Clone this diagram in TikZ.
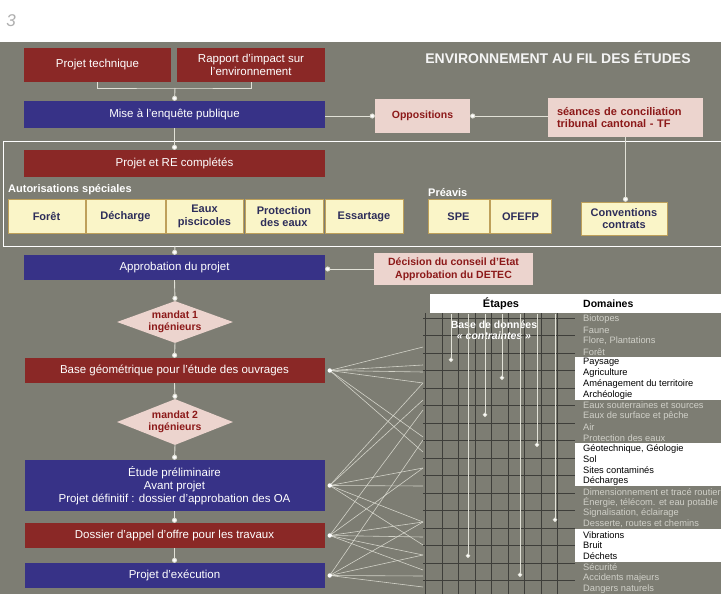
\documentclass[tikz,border=0pt]{standalone}
\usepackage{fontspec}
\setmainfont{Liberation Sans}
\usetikzlibrary{shapes.geometric,arrows.meta}
\definecolor{panel}{RGB}{125,125,115}
\definecolor{boxred}{RGB}{138,40,38}
\definecolor{boxblue}{RGB}{55,50,135}
\definecolor{boxpink}{RGB}{236,212,206}
\definecolor{boxyellow}{RGB}{250,245,200}
\definecolor{yelborder}{RGB}{190,160,90}
\definecolor{yeltext}{RGB}{45,45,90}
\definecolor{txtred}{RGB}{140,25,25}
\definecolor{linecol}{RGB}{225,225,215}
\definecolor{gridcol}{RGB}{62,62,58}
\definecolor{domlight}{RGB}{208,208,200}
\definecolor{numgray}{RGB}{175,175,175}
\tikzset{
  base/.style={inner sep=1pt, align=center, font=\fontsize{11.5}{13}\selectfont},
  redbox/.style={base, fill=boxred, text=white},
  bluebox/.style={base, fill=boxblue, text=white},
  pinkbox/.style={base, fill=boxpink, text=txtred, font=\bfseries\fontsize{10.5}{12.5}\selectfont},
  yelbox/.style={base, fill=boxyellow, draw=yelborder, line width=0.5pt, text=yeltext,
    minimum height=34pt, font=\bfseries\fontsize{11}{12.5}\selectfont},
  diam/.style={diamond, aspect=2.8, fill=boxpink, text=txtred, inner sep=0pt, align=center,
    font=\bfseries\fontsize{10.5}{11.5}\selectfont, minimum width=116pt},
  conn/.style={draw=linecol, line width=0.9pt},
  dotarrow/.style={conn, -{Circle[length=5pt, fill=white]}},
  fanline/.style={draw=linecol, line width=0.6pt, opacity=0.85},
  gridline/.style={draw=gridcol, line width=0.6pt},
  smalllabel/.style={anchor=west, inner sep=0pt, text=white, font=\bfseries\fontsize{11}{12}\selectfont},
  domtext/.style={anchor=west, inner sep=0pt, font=\fontsize{9.3}{10}\selectfont},
}
\begin{document}
\begin{tikzpicture}[x=1pt,y=-1pt]
\useasboundingbox (0,0) rectangle (721,594);
\fill[white] (0,0) rectangle (721,594);
\fill[panel] (0,42) rectangle (721,594);
\node[text=numgray, font=\itshape\fontsize{17}{17}\selectfont, inner sep=0pt] (num) at (11,21) {3};
\node[text=white!92!gray, inner sep=0pt, font=\bfseries\fontsize{14}{15}\selectfont] (title) at (558,57) {ENVIRONNEMENT AU FIL DES ÉTUDES};

% outline band
\draw[white, line width=1pt] (3,141) rectangle (726,246);

% top boxes
\node[redbox, minimum width=147pt, minimum height=34pt] (pt) at (97.5,65) {Projet technique};
\node[redbox, minimum width=148pt, minimum height=34pt] (ri) at (251,65) {Rapport d'impact sur\\l'environnement};
\node[bluebox, minimum width=301pt, minimum height=27pt] (mise) at (174.5,114.5) {Mise à l'enquête publique};
\node[pinkbox, minimum width=95pt, minimum height=34pt] (opp) at (422.5,116) {Oppositions};
\node[pinkbox, align=left, text width=137pt, inner xsep=9pt, minimum height=38pt,
  font=\bfseries\fontsize{11}{12.5}\selectfont] (sea) at (625.5,117.5) {séances de conciliation\\tribunal cantonal - TF};

\node[redbox, minimum width=301pt, minimum height=27pt] (prc) at (174.5,163.5) {Projet et RE complétés};
\node[smalllabel] (autor) at (8,190) {Autorisations spéciales};
\node[smalllabel] (preav) at (428,193) {Préavis};
\node[yelbox, minimum width=77pt] (foret) at (46.5,216.5) {Forêt};
\node[yelbox, minimum width=79pt] (dech) at (125.5,216.5) {Décharge};
\node[yelbox, minimum width=77pt] (eaux) at (204.5,216.5) {Eaux\\piscicoles};
\node[yelbox, minimum width=78pt] (prot) at (284,216.5) {Protection\\des eaux};
\node[yelbox, minimum width=78pt] (essa) at (364,216.5) {Essartage};
\node[yelbox, minimum width=61pt] (spe) at (458.5,216.5) {SPE};
\node[yelbox, minimum width=61pt] (ofe) at (520.5,216.5) {OFEFP};
\node[yelbox, minimum width=86pt, minimum height=33pt] (conv) at (624,218.5) {Conventions\\contrats};

\node[pinkbox, minimum width=159pt, minimum height=32pt] (dec) at (453.5,269) {Décision du conseil d'Etat\\Approbation du DETEC};
\node[bluebox, minimum width=301pt, minimum height=25pt] (appr) at (174.5,267.5) {Approbation du projet};
\node[diam, minimum height=42pt] (m1) at (175,322) {mandat 1\\ingénieurs};
\node[redbox, minimum width=300pt, minimum height=25pt] (bg) at (174.5,370.5) {Base géométrique pour l'étude des ouvrages};
\node[diam, minimum height=46pt] (m2) at (175,422) {mandat 2\\ingénieurs};
\node[bluebox, minimum width=300pt, minimum height=51pt] (etude) at (174.5,485.5) {Étude préliminaire\\Avant projet\\Projet définitif : dossier d'approbation des OA};
\node[redbox, minimum width=300pt, minimum height=25pt] (doss) at (174.5,535.5) {Dossier d'appel d'offre pour les travaux};
\node[bluebox, minimum width=300pt, minimum height=25pt] (exe) at (174.5,575.5) {Projet d'exécution};

% flow connectors
\coordinate (jn) at (175,88);
\coordinate (lb) at (175,246);
\draw[conn] (pt.south) |- (jn) -| (ri.south);
\draw[dotarrow] (jn) -- (mise.north);
\draw[dotarrow] (mise.south) -- (prc.north);
\draw[dotarrow] (lb) -- (appr.north);
\draw[dotarrow] (appr.south) -- (m1.north);
\draw[dotarrow] (m1.south) -- (bg.north);
\draw[dotarrow] (bg.south) -- (m2.north);
\draw[dotarrow] (m2.south) -- (etude.north);
\draw[dotarrow] (etude.south) -- (doss.north);
\draw[dotarrow] (doss.south) -- (exe.north);
\draw[dotarrow] (mise.east |- opp.west) -- (opp.west);
\draw[dotarrow] (sea.west |- opp.east) -- (opp.east);
\draw[dotarrow] (sea.south) -- (sea.south |- conv.north);
\draw[dotarrow] (dec.west) -- (dec.west -| appr.east);

% table header and highlighted rows
\fill[white] (430,294) rectangle (721,313);
\node[inner sep=0pt, font=\bfseries\fontsize{11}{12}\selectfont] (etapes) at (501,303.5) {Étapes};
\node[anchor=west, inner sep=0pt, font=\bfseries\fontsize{10.5}{12}\selectfont] (domaines) at (583,303.5) {Domaines};
\fill[white] (575,357.1) rectangle (721,400.2);
\fill[white] (575,443.2) rectangle (721,486.3);
\fill[white] (575,529.4) rectangle (721,561.7);

% grid
\foreach \gx in {425,442,458.5,475,491.5,508,524.5,541,557.5}
  \draw[gridline] (\gx,313) -- (\gx,594);
\foreach \gy in {318,335.5,353,370.5,388,405.5,423,440.5,458,475.5,493,510.5,528,545.5,563,580.5}
  \draw[gridline] (423,\gy) -- (575,\gy);

\node[text=white, inner sep=0pt, align=center, font=\bfseries\fontsize{10.5}{11}\selectfont] (bdd) at (494,330)
  {Base de données\\\textit{« contraintes »}};

% domain list
\foreach \dname/\dcol [count=\i] in {
  Biotopes/domlight, Faune/domlight, {Flore, Plantations}/domlight, Forêt/domlight,
  Paysage/black, Agriculture/black, Aménagement du territoire/black, Archéologie/black,
  Eaux souterraines et sources/domlight, Eaux de surface et pêche/domlight, Air/domlight,
  Protection des eaux/domlight,
  {Géotechnique, Géologie}/black, Sol/black, Sites contaminés/black, Décharges/black,
  Dimensionnement et tracé routier/domlight, {Énergie, télécom. et eau potable}/domlight,
  {Signalisation, éclairage}/domlight, {Desserte, routes et chemins}/domlight,
  Vibrations/black, Bruit/black, Déchets/black,
  Sécurité/domlight, Accidents majeurs/domlight, Dangers naturels/domlight}
  \node[domtext, text=\dcol] (d\i) at (583,{314+(\i-0.5)*10.77}) {\dname};

% grid arrows
\foreach \ax/\ay [count=\k] in {451/362, 468/558, 485/417, 502/380, 520/577, 537/447, 555/522} {
  \coordinate (gs\k) at (\ax,314);
  \coordinate (ge\k) at (\ax,\ay);
  \draw[conn, line width=0.7pt, -{Circle[length=4.5pt, fill=white]}] (gs\k) -- (ge\k);
}

% fan lines
\foreach \ty in {347,365,372,383,400,410,437,440,452,468,486,522,537,545,555,570,576,587}
  \coordinate (t\ty) at (423,\ty);
\coordinate (fb) at ([xshift=5pt]bg.east);
\coordinate (fe) at ([xshift=5pt]etude.east);
\coordinate (fd) at ([xshift=5pt]doss.east);
\coordinate (fx) at ([xshift=5pt]exe.east);
\foreach \ty in {347,365,372,383,437,452} \draw[fanline] (fb) -- (t\ty);
\foreach \ty in {383,400,468,486,522,545} \draw[fanline] (fe) -- (t\ty);
\foreach \ty in {410,468,522,537,555,570} \draw[fanline] (fd) -- (t\ty);
\foreach \ty in {440,522,555,576,587} \draw[fanline] (fx) -- (t\ty);
\foreach \f in {fb,fe,fd,fx} \fill[white] (\f) circle (2.2pt);
\end{tikzpicture}
\end{document}
